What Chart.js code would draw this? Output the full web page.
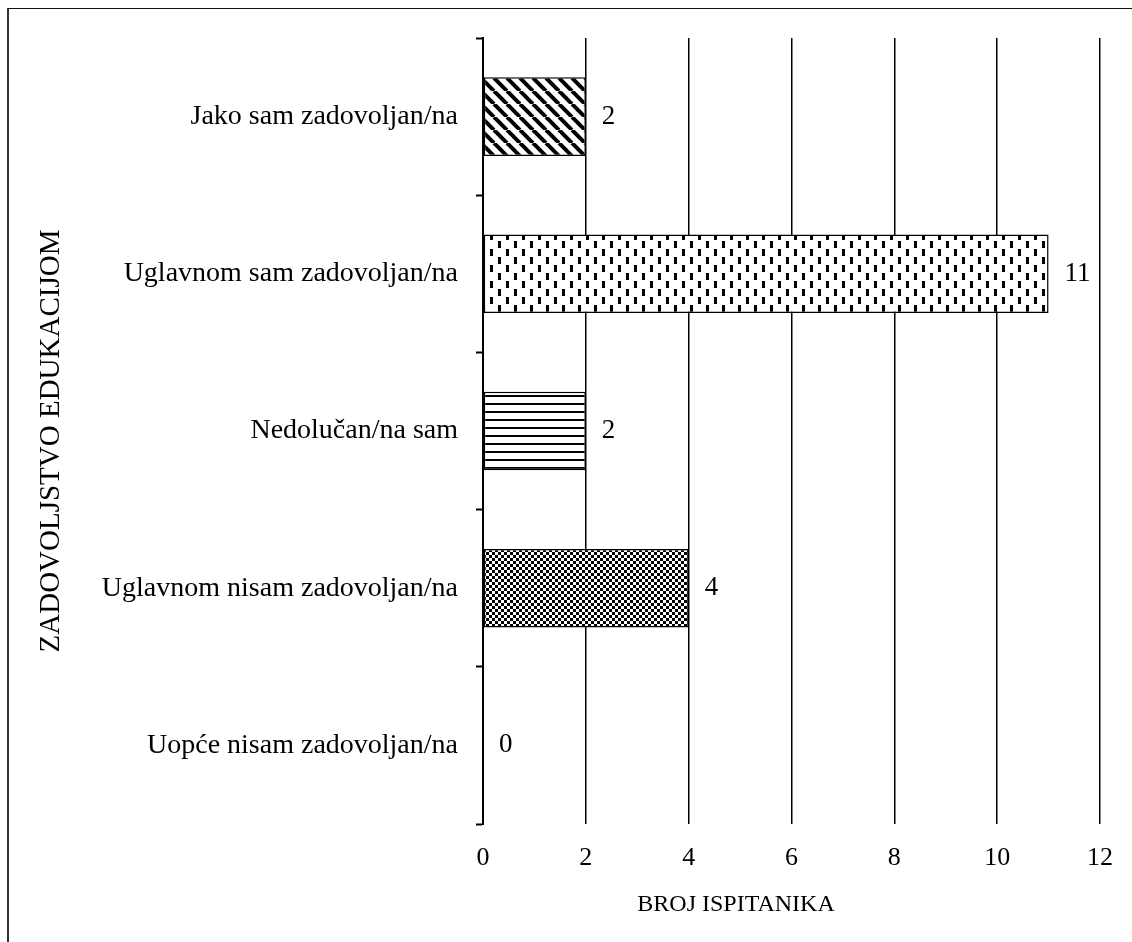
<!DOCTYPE html>
<html>
<head>
<meta charset="utf-8">
<script src="https://cdn.jsdelivr.net/npm/chart.js@4"></script>
<style>
    html, body { margin: 0; padding: 0; background: #fff; }
    #wrap { position: relative; width: 1132px; height: 942px; overflow: hidden; }
    #frame { position: absolute; left: 7px; top: 8px; width: 1200px; height: 1000px;
             border-left: 2px solid #333; border-top: 1px solid #111; }
    canvas { position: absolute; left: 0; top: 0; }
</style>
</head>
<body>
<div id="wrap">
    <div id="frame"></div>
    <canvas id="satisfactionChart" width="1132" height="942"></canvas>
</div>
<script>
// podaci grafikona
const categories = [
    'Jako sam zadovoljan/na',
    'Uglavnom sam zadovoljan/na',
    'Nedolučan/na sam',
    'Uglavnom nisam zadovoljan/na',
    'Uopće nisam zadovoljan/na'
];
const counts = [2, 11, 2, 4, 0];
const xTicks = [0, 2, 4, 6, 8, 10, 12];
const xTitle = 'BROJ ISPITANIKA';
const yTitle = 'ZADOVOLJSTVO EDUKACIJOM';

const FONT = "'Liberation Serif', 'Times New Roman', serif";

// šrafure za stupce
function makePattern(w, h, draw) {
    const c = document.createElement('canvas');
    c.width = w;
    c.height = h;
    const g = c.getContext('2d');
    g.fillStyle = '#fff';
    g.fillRect(0, 0, w, h);
    g.fillStyle = '#000';
    g.strokeStyle = '#000';
    draw(g, w, h);
    return document.createElement('canvas').getContext('2d').createPattern(c, 'repeat');
}

const diagonal = makePattern(13, 13, (g, w, h) => {
    g.lineWidth = 4;
    for (let o = -w; o <= w; o += w) {
        g.beginPath();
        g.moveTo(o, 0);
        g.lineTo(o + w, h);
        g.stroke();
    }
});

const dashes = makePattern(16, 16, (g) => {
    g.fillRect(2, 1, 3, 7);
    g.fillRect(10, 9, 3, 7);
});

const horizontal = makePattern(8, 8, (g) => {
    g.fillRect(0, 3, 8, 2);
});

const checker = makePattern(6, 6, (g) => {
    g.fillRect(0, 0, 3, 3);
    g.fillRect(3, 3, 3, 3);
});

const patterns = [diagonal, dashes, horizontal, checker, '#fff'];

// vrijednosti desno od stupaca + naslovi osi
const valueLabels = {
    id: 'valueLabels',
    afterDatasetsDraw(chart) {
        const ctx = chart.ctx;
        const meta = chart.getDatasetMeta(0);
        ctx.save();
        ctx.font = '27px ' + FONT;
        ctx.fillStyle = '#000';
        ctx.textAlign = 'left';
        ctx.textBaseline = 'middle';
        meta.data.forEach((bar, i) => {
            ctx.fillText(String(counts[i]), bar.x + 16, bar.y);
        });

        // naslov x osi (u originalu pomaknut ulijevo)
        ctx.font = '24px ' + FONT;
        ctx.textAlign = 'center';
        ctx.fillText(xTitle, 736, 905);

        // naslov y osi
        ctx.translate(51, 441);
        ctx.rotate(-Math.PI / 2);
        ctx.font = '29px ' + FONT;
        ctx.fillText(yTitle, 0, 0);
        ctx.restore();
    }
};

new Chart(document.getElementById('satisfactionChart'), {
    type: 'bar',
    data: {
        labels: categories,
        datasets: [{
            data: counts,
            backgroundColor: patterns,
            borderColor: '#000',
            borderWidth: 1.5,
            borderSkipped: false,
            categoryPercentage: 1,
            barPercentage: 0.5
        }]
    },
    options: {
        indexAxis: 'y',
        responsive: false,
        animation: false,
        layout: { padding: { top: 38, right: 32, left: 0, bottom: 0 } },
        plugins: {
            legend: { display: false },
            tooltip: { enabled: false }
        },
        scales: {
            x: {
                min: 0,
                max: 12,
                afterBuildTicks(scale) {
                    scale.ticks = xTicks.map(v => ({ value: v }));
                },
                afterFit(scale) { scale.height = 118; },
                border: { display: false },
                grid: {
                    color: '#000',
                    lineWidth: 1.5,
                    drawTicks: false
                },
                ticks: {
                    padding: 19,
                    color: '#000',
                    font: { family: FONT, size: 26 }
                }
            },
            y: {
                afterFit(scale) { scale.width = 483; },
                border: { display: true, color: '#000', width: 2 },
                grid: {
                    offset: true,
                    drawOnChartArea: false,
                    drawTicks: true,
                    tickLength: 7,
                    tickColor: '#000',
                    tickWidth: 2
                },
                ticks: {
                    padding: 18,
                    color: '#000',
                    font: { family: FONT, size: 28 }
                }
            }
        }
    },
    plugins: [valueLabels]
});
</script>
</body>
</html>
